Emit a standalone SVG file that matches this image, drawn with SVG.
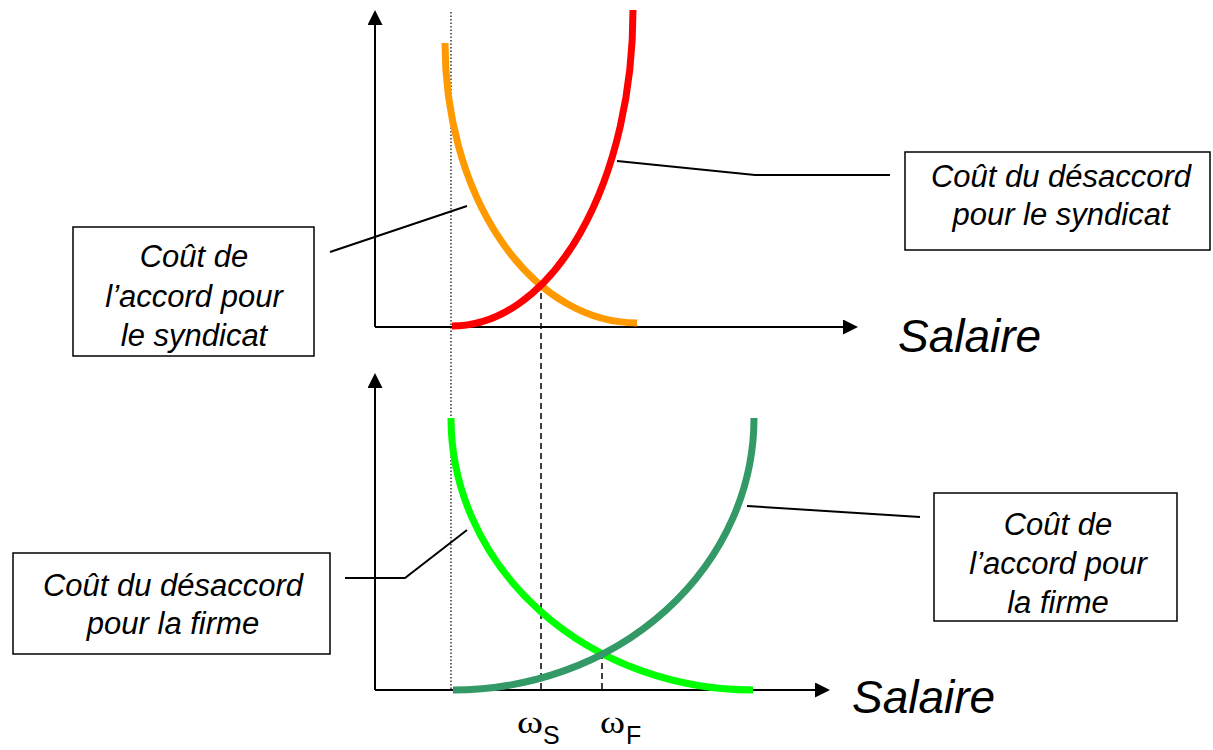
<svg xmlns="http://www.w3.org/2000/svg" width="1213" height="750" viewBox="0 0 1213 750">
<style>
.axis{stroke:#000;stroke-width:2;fill:none}
.curve{fill:none;stroke-width:7}
.guide{stroke:#000;stroke-width:1.5;fill:none}
.dash{stroke-dasharray:6 4}
.dot{stroke:#000;stroke-width:1.2;stroke-dasharray:1.5 2;fill:none}
.box{fill:#fff;stroke:#000;stroke-width:1.5}
.lbl{font-family:"Liberation Sans",Arial,sans-serif;font-style:italic;font-size:31px;fill:#000;text-anchor:middle}
.sal{font-family:"Liberation Sans",Arial,sans-serif;font-style:italic;font-size:46px;fill:#000}
.conn{stroke:#000;stroke-width:2;fill:none}
.om{font-family:"Liberation Serif","Times New Roman",serif;font-size:32px;fill:#000}
.sub{font-family:"Liberation Sans",Arial,sans-serif;font-size:25px;fill:#000}
</style>
<defs>
<marker id="arr" markerUnits="userSpaceOnUse" markerWidth="16" markerHeight="16" refX="11" refY="7.5" orient="auto">
<path d="M0,0 L15,7.5 L0,15 z" fill="#000"/>
</marker>
</defs>
<g id="axes">
<line class="axis" x1="375" y1="327" x2="375" y2="14" marker-end="url(#arr)"/>
<line class="axis" x1="375" y1="327" x2="854" y2="327" marker-end="url(#arr)"/>
<line class="axis" x1="375" y1="690" x2="375" y2="377" marker-end="url(#arr)"/>
<line class="axis" x1="375" y1="690" x2="826" y2="690" marker-end="url(#arr)"/>
</g>
<g id="guides">
<line class="dot" x1="451" y1="12" x2="451" y2="690"/>
<line class="guide dash" x1="541" y1="283" x2="541" y2="690"/>
<line class="guide dash" x1="602" y1="653" x2="602" y2="690"/>
</g>
<g id="curve-accord-syndicat"><path class="curve" stroke="#FF9900" d="M445,43 A192,280 0 0 0 637,323"/></g>
<g id="curve-desaccord-syndicat"><path class="curve" stroke="#FF0000" d="M452,326 A181,316 0 0 0 633,10"/></g>
<g id="curve-desaccord-firme"><path class="curve" stroke="#00FF00" d="M451,418 A302,272 0 0 0 753,690"/></g>
<g id="curve-accord-firme"><path class="curve" stroke="#339966" d="M453,690 A301,272 0 0 0 754,418"/></g>
<g id="connectors">
<polyline class="conn" points="330,252 467,206"/>
<polyline class="conn" points="617,161 755,175 890,175"/>
<polyline class="conn" points="345,578 405,578 467,530"/>
<polyline class="conn" points="747,506 920,517"/>
</g>
<g id="box-accord-syndicat">
<rect class="box" x="73" y="227" width="241" height="129"/>
<text class="lbl" x="194" y="267">Coût de</text>
<text class="lbl" x="194" y="307">l’accord pour</text>
<text class="lbl" x="194" y="346">le syndicat</text>
</g>
<g id="box-desaccord-syndicat">
<rect class="box" x="905" y="152" width="305" height="98"/>
<text class="lbl" x="1061" y="187">Coût du désaccord</text>
<text class="lbl" x="1061" y="225">pour le syndicat</text>
</g>
<g id="box-desaccord-firme">
<rect class="box" x="13" y="553" width="317" height="101"/>
<text class="lbl" x="173" y="596">Coût du désaccord</text>
<text class="lbl" x="173" y="634">pour la firme</text>
</g>
<g id="box-accord-firme">
<rect class="box" x="934" y="493" width="243" height="128"/>
<text class="lbl" x="1058" y="535">Coût de</text>
<text class="lbl" x="1058" y="574">l’accord pour</text>
<text class="lbl" x="1058" y="613">la firme</text>
</g>
<g id="axis-labels">
<text class="sal" x="898" y="352">Salaire</text>
<text class="sal" x="852" y="713">Salaire</text>
<text class="om" x="517" y="733" textLength="26" lengthAdjust="spacingAndGlyphs">ω</text>
<text class="sub" x="543" y="744">S</text>
<text class="om" x="600" y="733" textLength="25" lengthAdjust="spacingAndGlyphs">ω</text>
<text class="sub" x="626" y="744">F</text>
</g>
</svg>
